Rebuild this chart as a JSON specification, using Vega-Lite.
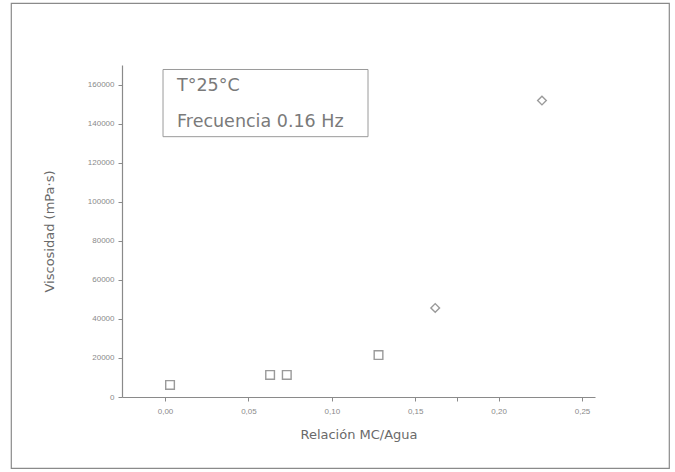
{
  "$schema": "https://vega.github.io/schema/vega-lite/v6.json",
  "autosize": "none",
  "width": 658,
  "height": 465,
  "padding": {"left": 11, "top": 3, "right": 6, "bottom": 4},
  "background": "white",
  "config": {
    "view": {"stroke": "#8a8a8a", "strokeWidth": 1.2},
    "font": "Liberation Sans"
  },
  "layer": [
    {
      "data": {"values": [{"x1": -0.0012, "x2": 0.1217, "y1": 167700, "y2": 133300}]},
      "mark": {"type": "rect", "fill": "white", "stroke": "#9a9a9a", "strokeWidth": 1},
      "encoding": {
        "x": {"field": "x1", "type": "quantitative"},
        "x2": {"field": "x2"},
        "y": {"field": "y1", "type": "quantitative"},
        "y2": {"field": "y2"}
      }
    },
    {
      "data": {"values": [
        {"x": 0.0072, "y": 159000, "label": "T°25°C"},
        {"x": 0.0072, "y": 141000, "label": "Frecuencia 0.16 Hz"}
      ]},
      "mark": {"type": "text", "align": "left", "baseline": "middle", "fontSize": 17.5, "font": "DejaVu Sans", "color": "#7a7a7a"},
      "encoding": {
        "x": {"field": "x", "type": "quantitative"},
        "y": {"field": "y", "type": "quantitative"},
        "text": {"field": "label"}
      }
    },
    {
      "data": {"values": [
        {"ratio": 0.003, "visc": 6150, "tipo": "a"},
        {"ratio": 0.063, "visc": 11300, "tipo": "a"},
        {"ratio": 0.073, "visc": 11300, "tipo": "a"},
        {"ratio": 0.128, "visc": 21500, "tipo": "a"},
        {"ratio": 0.162, "visc": 45600, "tipo": "b"},
        {"ratio": 0.226, "visc": 151800, "tipo": "b"}
      ]},
      "mark": {"type": "point", "filled": false, "stroke": "#707070", "strokeWidth": 1.4, "size": 75},
      "encoding": {
        "x": {
          "field": "ratio", "type": "quantitative",
          "scale": {"domain": [-0.0258, 0.2578], "range": [111, 584], "nice": false, "zero": false},
          "axis": {
            "title": "Relación MC/Agua",
            "offset": -71,
            "values": [0, 0.05, 0.1, 0.15, 0.175, 0.2, 0.25],
            "labelExpr": "datum.value == 0.175 ? '' : replace(format(datum.value, '.2f'), '.', ',')",
            "grid": false,
            "domainColor": "#8a8a8a",
            "domainWidth": 1.2,
            "tickColor": "#8a8a8a",
            "tickSize": 4,
            "labelColor": "#8a8a8a",
            "labelFontSize": 8,
            "labelPadding": 6,
            "titleColor": "#6a6a6a",
            "titleFont": "DejaVu Sans",
            "titleFontSize": 13,
            "titleFontWeight": "normal",
            "titlePadding": 13
          }
        },
        "y": {
          "field": "visc", "type": "quantitative",
          "scale": {"domain": [0, 170000], "range": [394, 62], "nice": false},
          "axis": {
            "title": "Viscosidad (mPa·s)",
            "offset": -111,
            "values": [0, 10000, 20000, 30000, 40000, 50000, 60000, 70000, 80000, 90000, 100000, 110000, 120000, 130000, 140000, 150000, 160000, 170000],
            "labelExpr": "datum.value % 20000 == 0 ? format(datum.value, 'd') : ''",
            "grid": false,
            "domainColor": "#8a8a8a",
            "domainWidth": 1.2,
            "tickColor": "#8a8a8a",
            "tickSize": 4,
            "labelColor": "#8a8a8a",
            "labelFontSize": 8,
            "labelPadding": 4,
            "titleColor": "#6a6a6a",
            "titleFont": "DejaVu Sans",
            "titleFontSize": 13,
            "titleFontWeight": "normal",
            "titlePadding": 31
          }
        },
        "shape": {
          "field": "tipo", "type": "nominal",
          "scale": {"domain": ["a", "b"], "range": ["square", "diamond"]},
          "legend": null
        }
      }
    }
  ]
}
